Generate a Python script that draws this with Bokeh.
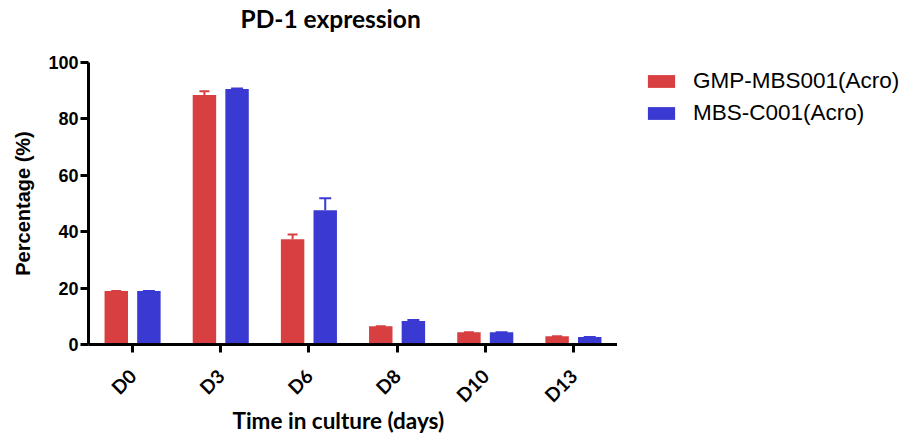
from bokeh.plotting import figure
from bokeh.layouts import row
from bokeh.models import ColumnDataSource, FactorRange, Legend, LegendItem, Whisker, Title, FixedTicker
from bokeh.transform import dodge
from bokeh.embed import file_html
from bokeh.resources import INLINE
import math

days = ["D0", "D3", "D6", "D8", "D10", "D13"]
gmp_values = [19.0, 88.5, 37.3, 6.5, 4.3, 2.9]
gmp_errors = [0.0, 1.3, 1.7, 0.0, 0.0, 0.0]
mbs_values = [19.0, 90.6, 47.6, 8.3, 4.3, 2.7]
mbs_errors = [0.0, 0.2, 4.3, 0.4, 0.0, 0.0]
series_names = ["GMP-MBS001(Acro)", "MBS-C001(Acro)"]
y_ticks = [0, 20, 40, 60, 80, 100]

RED = "#D83F40"
BLUE = "#3A3AD2"

src = ColumnDataSource(dict(
    day=days,
    gmp=gmp_values,
    gmp_up=[v + e for v, e in zip(gmp_values, gmp_errors)],
    mbs=mbs_values,
    mbs_up=[v + e for v, e in zip(mbs_values, mbs_errors)],
))

p = figure(x_range=FactorRange(factors=days), y_range=(0, 100),
           width=617, height=437, output_backend="svg", toolbar_location=None,
           min_border_left=88, min_border_right=0, min_border_top=62, min_border_bottom=93)
p.outline_line_color = None
p.grid.grid_line_color = None
p.background_fill_color = "white"

r1 = p.vbar(x=dodge("day", -0.185, range=p.x_range), top="gmp", width=0.266, source=src,
            fill_color=RED, line_color=None)
r2 = p.vbar(x=dodge("day", 0.185, range=p.x_range), top="mbs", width=0.266, source=src,
            fill_color=BLUE, line_color=None)

w1 = Whisker(base=dodge("day", -0.185, range=p.x_range), lower="gmp", upper="gmp_up", source=src,
             dimension="height", line_color=RED, line_width=2)
w1.upper_head.size = 10
w1.upper_head.line_color = RED
w1.upper_head.line_width = 2
w1.lower_head = None
w2 = Whisker(base=dodge("day", 0.185, range=p.x_range), lower="mbs", upper="mbs_up", source=src,
             dimension="height", line_color=BLUE, line_width=2)
w2.upper_head.size = 12
w2.upper_head.line_color = BLUE
w2.upper_head.line_width = 2
w2.lower_head = None
p.add_layout(w1)
p.add_layout(w2)

for ax in (p.xaxis[0], p.yaxis[0]):
    ax.axis_line_width = 3
    ax.axis_line_color = "black"
    ax.major_tick_line_width = 3
    ax.major_tick_line_color = "black"
    ax.major_tick_out = 8
    ax.major_tick_in = 0
    ax.minor_tick_line_color = None
    ax.major_label_text_color = "black"
    ax.major_label_text_font_style = "bold"

p.yaxis.ticker = FixedTicker(ticks=y_ticks)
p.yaxis.major_label_text_font = "Liberation Sans"
p.yaxis.major_label_text_font_size = "18px"
p.yaxis.major_label_standoff = 2
p.yaxis.axis_label = "Percentage (%)"
p.yaxis.axis_label_text_font = "Liberation Sans"
p.yaxis.axis_label_text_font_size = "20px"
p.yaxis.axis_label_text_font_style = "bold"
p.yaxis.axis_label_text_color = "black"
p.yaxis.axis_label_standoff = 11

p.xaxis.major_label_orientation = math.pi / 4
p.xaxis.major_label_text_font = "Lato"
p.xaxis.major_label_text_font_size = "19px"
p.xaxis.major_label_standoff = 20
p.x_range.range_padding = 0

# spacer between frame and title, then the title itself
p.add_layout(Title(text=" ", text_font_size="1px", standoff=27), "above")
p.add_layout(Title(text="PD-1 expression", align="left", offset=152, standoff=0,
                   text_font="Lato", text_font_size="24.5px", text_font_style="bold",
                   text_color="black"), "above")

xlab = Title(text="Time in culture (days)", align="left", offset=144, standoff=-25,
             text_font="Lato", text_font_size="22.5px", text_font_style="bold",
             text_color="black")
p.add_layout(xlab, "below")

# legend panel
p2 = figure(width=291, height=437, output_backend="svg", toolbar_location=None,
            x_axis_location=None, y_axis_location=None, min_border=0,
            x_range=(0, 1), y_range=(0, 1))
p2.outline_line_color = None
p2.grid.grid_line_color = None
swatch = ColumnDataSource(dict(x=[0], top=[0]))
g1 = p2.vbar(x="x", top="top", width=0, source=swatch, fill_color=RED, line_color=None)
g2 = p2.vbar(x="x", top="top", width=0, source=swatch, fill_color=BLUE, line_color=None)

legend = Legend(items=[LegendItem(label=series_names[0], renderers=[g1]),
                       LegendItem(label=series_names[1], renderers=[g2])],
                location=(27, 218))
legend.glyph_width = 34
legend.glyph_height = 16
legend.label_text_font = "Liberation Sans"
legend.label_text_font_size = "22.5px"
legend.label_text_color = "black"
legend.label_standoff = 15
legend.spacing = 6
legend.border_line_color = None
legend.background_fill_alpha = 0
legend.padding = 0
legend.margin = 0
p2.add_layout(legend, "center")

open("out.html", "w").write(file_html(row(p, p2), INLINE))
